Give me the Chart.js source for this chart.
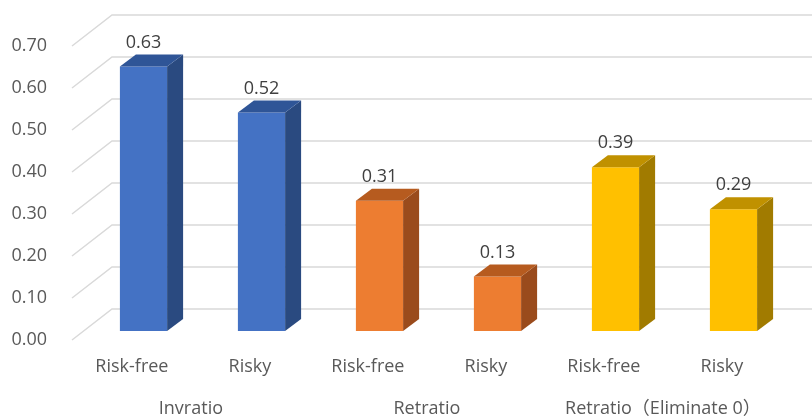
<!DOCTYPE html>
<html>
<head>
<meta charset="utf-8">
<script src="https://cdn.jsdelivr.net/npm/chart.js@4.4.0/dist/chart.umd.min.js"></script>
<style>
  html, body { margin: 0; padding: 0; background: #fff; }
  #myChart { display: block; }
</style>
</head>
<body>
<canvas id="myChart" width="812" height="420"></canvas>
<script>
const categories = ['Risk-free', 'Risky', 'Risk-free', 'Risky', 'Risk-free', 'Risky'];
const values = [0.63, 0.52, 0.31, 0.13, 0.39, 0.29];
const groups = ['Invratio', 'Retratio', 'Retratio（Eliminate 0）'];
const groupOfBar = [0, 0, 1, 1, 2, 2];

// front / side / top colours for each group
const frontColors = ['#4472C4', '#ED7D31', '#FFC000'];
const sideColors = ['#2A4A80', '#9A4B1C', '#A17B00'];
const topColors = ['#2F5597', '#B65B1F', '#C09100'];

const FONT = "'Open Sans', 'Noto Sans CJK SC', sans-serif";
const DEPTH_X = 16, DEPTH_Y = -12;   // bar depth
const WALL_FRONT = [-12.5, 9];       // label plane, relative to bar plane
const WALL_BACK = [27.5, -22];       // back wall, relative to bar plane

const gridPlugin = {
    id: 'grid3d',
    beforeDatasetsDraw(chart) {
        const ctx = chart.ctx;
        const yScale = chart.scales.y;
        const left = chart.chartArea.left;
        ctx.save();
        ctx.strokeStyle = '#D9D9D9';
        ctx.lineWidth = 1.5;
        yScale.ticks.forEach(t => {
            const y = yScale.getPixelForValue(t.value);
            ctx.beginPath();
            ctx.moveTo(left + WALL_FRONT[0], y + WALL_FRONT[1]);
            ctx.lineTo(left + WALL_BACK[0], y + WALL_BACK[1]);
            ctx.lineTo(chart.width, y + WALL_BACK[1]);
            ctx.stroke();
        });
        ctx.restore();
    }
};

const barPlugin = {
    id: 'bar3d',
    afterDatasetsDraw(chart) {
        const ctx = chart.ctx;
        const meta = chart.getDatasetMeta(0);
        ctx.save();
        meta.data.forEach((bar, i) => {
            const p = bar.getProps(['x', 'y', 'base', 'width'], true);
            const l = p.x - p.width / 2, r = p.x + p.width / 2;
            const g = groupOfBar[i];

            // side face
            ctx.fillStyle = sideColors[g];
            ctx.beginPath();
            ctx.moveTo(r, p.base);
            ctx.lineTo(r + DEPTH_X, p.base + DEPTH_Y);
            ctx.lineTo(r + DEPTH_X, p.y + DEPTH_Y);
            ctx.lineTo(r, p.y);
            ctx.closePath();
            ctx.fill();

            // top face
            ctx.fillStyle = topColors[g];
            ctx.beginPath();
            ctx.moveTo(l, p.y);
            ctx.lineTo(l + DEPTH_X, p.y + DEPTH_Y);
            ctx.lineTo(r + DEPTH_X, p.y + DEPTH_Y);
            ctx.lineTo(r, p.y);
            ctx.closePath();
            ctx.fill();

            // value label
            ctx.fillStyle = '#404040';
            ctx.font = '18px ' + FONT;
            ctx.textAlign = 'center';
            ctx.textBaseline = 'middle';
            ctx.fillText(values[i].toFixed(2), p.x, p.y - 24);
        });
        ctx.restore();
    }
};

const ctx = document.getElementById('myChart').getContext('2d');
const myChart = new Chart(ctx, {
    type: 'bar',
    data: {
        labels: categories,
        datasets: [{
            data: values,
            backgroundColor: groupOfBar.map(g => frontColors[g]),
            borderWidth: 0,
            barPercentage: 0.4,
            categoryPercentage: 1
        }]
    },
    options: {
        responsive: false,
        animation: false,
        layout: { padding: { top: 37, right: 19.5, left: 0, bottom: 0 } },
        plugins: { legend: { display: false }, tooltip: { enabled: false } },
        scales: {
            y: {
                min: 0,
                max: 0.7,
                border: { display: false },
                grid: { display: false, drawTicks: false },
                ticks: {
                    stepSize: 0.1,
                    padding: 37.5,
                    labelOffset: 9,
                    color: '#595959',
                    font: { family: FONT, size: 18 },
                    callback: v => v.toFixed(2)
                },
                afterFit: scale => {
                    scale.width = 84.5;
                    scale.paddingTop = 0;
                    scale.paddingBottom = 0;
                }
            },
            x: {
                position: 'bottom',
                border: { display: false },
                grid: { display: false, drawTicks: false },
                ticks: {
                    padding: 25,
                    labelOffset: -11.6,
                    maxRotation: 0,
                    color: '#595959',
                    font: { family: FONT, size: 18 }
                },
                afterFit: scale => { scale.height = 50; }
            },
            x2: {
                type: 'category',
                labels: groups,
                position: 'bottom',
                offset: true,
                border: { display: false },
                grid: { display: false, drawTicks: false },
                ticks: {
                    padding: 17,
                    labelOffset: -11.6,
                    maxRotation: 0,
                    color: '#595959',
                    font: { family: FONT, size: 18 }
                },
                afterFit: scale => { scale.height = 39; }
            }
        }
    },
    plugins: [gridPlugin, barPlugin]
});
</script>
</body>
</html>
